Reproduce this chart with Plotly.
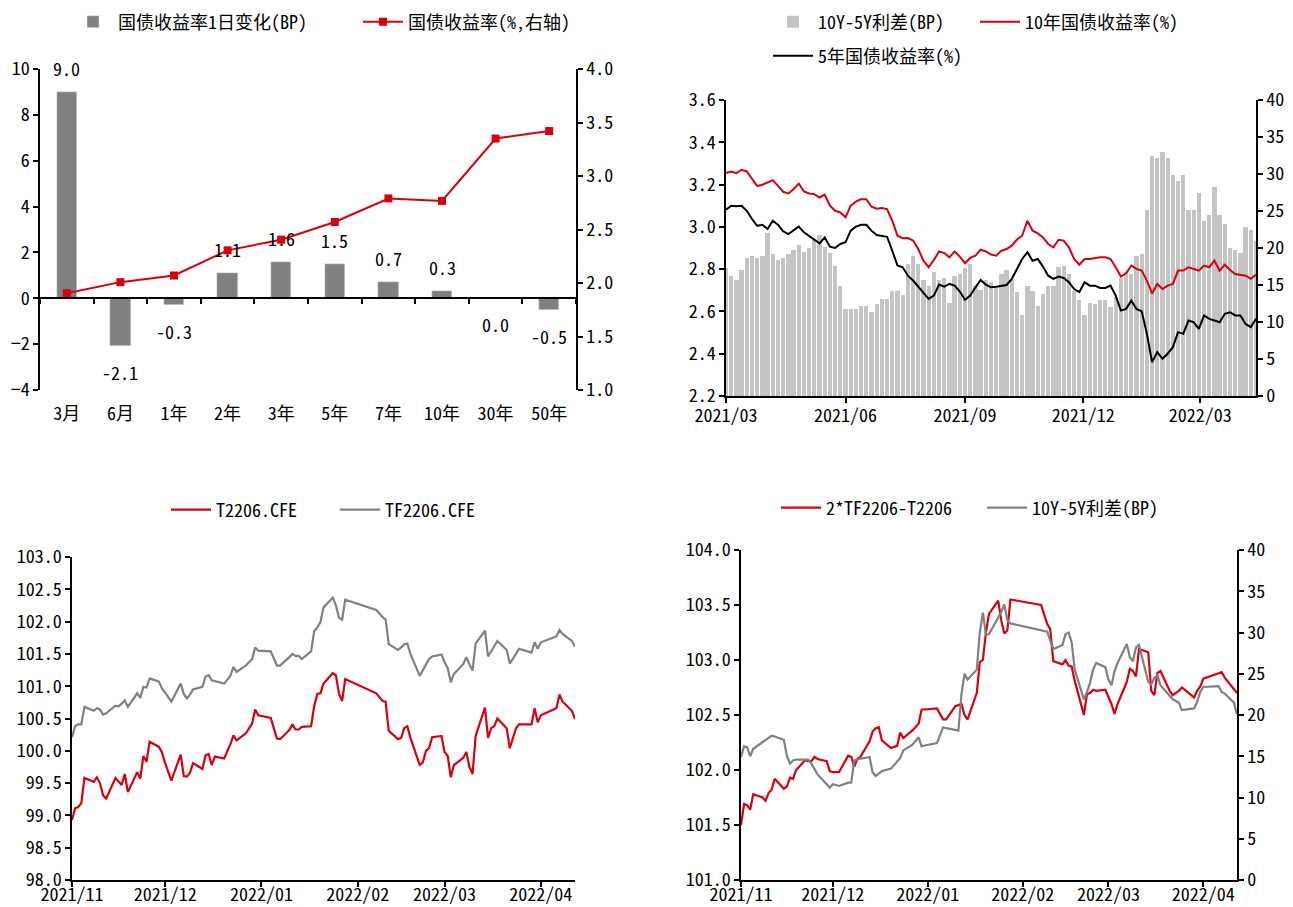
import plotly.graph_objects as go
import pandas as pd

# ---------------- Panel 1: yield curve ----------------
tenors = ["3月", "6月", "1年", "2年", "3年", "5年", "7年", "10年", "30年", "50年"]
chg_bp = [9.0, -2.1, -0.3, 1.1, 1.6, 1.5, 0.7, 0.3, 0.0, -0.5]
yield_pct = [1.905, 2.008, 2.07, 2.305, 2.405, 2.57, 2.79, 2.767, 3.35, 3.42]

# ---------------- Panel 2: 10Y / 5Y yields (sampled every 4 days) ----------------
dates2 = pd.date_range("2021-03-01", "2022-04-13", freq="4D")
spread_bp = [17.3, 16.2, 15.7, 17.0, 18.6, 18.9, 18.7, 18.9, 22.0, 19.2,
             18.4, 18.7, 19.2, 19.7, 20.4, 19.5, 20.0, 21.2, 21.7, 20.1,
             19.3, 17.6, 14.9, 11.8, 11.8, 11.8, 12.1, 12.1, 11.3, 12.4,
             13.1, 13.1, 14.2, 14.2, 13.7, 17.8, 18.9, 17.8, 15.7, 14.9,
             16.8, 15.7, 15.9, 12.6, 16.2, 16.5, 17.3, 17.8, 14.9, 14.3,
             15.7, 15.4, 14.6, 16.5, 17.0, 15.7, 14.0, 11.0, 14.9, 14.2,
             12.1, 13.8, 14.9, 14.9, 17.5, 17.6, 16.5, 14.2, 13.0, 11.0,
             12.6, 12.5, 13.0, 13.0, 12.0, 13.4, 16.0, 16.8, 16.5, 18.9,
             19.2, 25.2, 32.5, 32.2, 33.0, 32.2, 29.9, 29.1, 29.9, 25.2,
             25.2, 27.5, 23.6, 24.4, 28.3, 24.4, 23.3, 20.0, 19.7, 19.3,
             22.8, 22.5, 20.9]
y10 = [3.254, 3.262, 3.254, 3.270, 3.262, 3.226, 3.193, 3.199, 3.210, 3.221,
       3.194, 3.166, 3.158, 3.178, 3.205, 3.167, 3.158, 3.155, 3.139, 3.152,
       3.100, 3.076, 3.068, 3.045, 3.100, 3.119, 3.131, 3.131, 3.095, 3.086,
       3.089, 3.084, 3.029, 2.958, 2.946, 2.947, 2.935, 2.895, 2.840, 2.809,
       2.843, 2.884, 2.876, 2.856, 2.884, 2.859, 2.828, 2.853, 2.864, 2.892,
       2.884, 2.869, 2.864, 2.887, 2.895, 2.911, 2.940, 2.958, 3.029, 2.982,
       2.969, 2.950, 2.919, 2.903, 2.939, 2.935, 2.903, 2.848, 2.821, 2.848,
       2.848, 2.853, 2.856, 2.856, 2.848, 2.809, 2.765, 2.780, 2.817, 2.801,
       2.793, 2.746, 2.685, 2.730, 2.706, 2.722, 2.730, 2.793, 2.793, 2.809,
       2.801, 2.793, 2.817, 2.809, 2.840, 2.793, 2.821, 2.796, 2.777, 2.774,
       2.769, 2.754, 2.774]
y5 = [3.081, 3.100, 3.097, 3.100, 3.076, 3.037, 3.005, 3.010, 2.990, 3.029,
      3.010, 2.979, 2.966, 2.982, 3.001, 2.974, 2.958, 2.942, 2.922, 2.950,
      2.906, 2.900, 2.919, 2.927, 2.982, 3.001, 3.010, 3.010, 2.982, 2.961,
      2.958, 2.953, 2.887, 2.817, 2.809, 2.769, 2.746, 2.717, 2.683, 2.659,
      2.675, 2.727, 2.717, 2.730, 2.722, 2.694, 2.655, 2.675, 2.714, 2.749,
      2.727, 2.714, 2.717, 2.722, 2.725, 2.754, 2.801, 2.848, 2.880, 2.840,
      2.848, 2.812, 2.769, 2.754, 2.765, 2.758, 2.738, 2.706, 2.691, 2.738,
      2.722, 2.722, 2.711, 2.711, 2.722, 2.675, 2.604, 2.612, 2.651, 2.612,
      2.601, 2.494, 2.360, 2.408, 2.376, 2.400, 2.431, 2.502, 2.494, 2.557,
      2.549, 2.518, 2.581, 2.565, 2.557, 2.549, 2.589, 2.596, 2.581, 2.581,
      2.541, 2.526, 2.565]

# ---------------- Panels 3 & 4: futures ----------------
fut_dates = [
    "2021-11-01", "2021-11-02", "2021-11-03", "2021-11-04", "2021-11-05", "2021-11-08", "2021-11-09", "2021-11-10", "2021-11-11", "2021-11-12",
    "2021-11-15", "2021-11-16", "2021-11-17", "2021-11-18", "2021-11-19", "2021-11-22", "2021-11-23", "2021-11-24", "2021-11-25", "2021-11-26",
    "2021-11-29", "2021-11-30", "2021-12-01", "2021-12-03", "2021-12-06", "2021-12-07", "2021-12-08", "2021-12-09", "2021-12-10", "2021-12-13",
    "2021-12-14", "2021-12-15", "2021-12-16", "2021-12-17", "2021-12-20", "2021-12-22", "2021-12-23", "2021-12-24", "2021-12-27", "2021-12-29",
    "2021-12-30", "2021-12-31", "2022-01-04", "2022-01-06", "2022-01-07", "2022-01-10", "2022-01-11", "2022-01-12", "2022-01-13", "2022-01-14",
    "2022-01-17", "2022-01-18", "2022-01-19", "2022-01-20", "2022-01-21", "2022-01-24", "2022-01-25", "2022-01-26", "2022-01-27", "2022-01-28",
    "2022-02-07", "2022-02-09", "2022-02-10", "2022-02-11", "2022-02-14", "2022-02-15", "2022-02-16", "2022-02-17", "2022-02-18", "2022-02-21",
    "2022-02-22", "2022-02-23", "2022-02-24", "2022-02-25", "2022-02-28", "2022-03-01", "2022-03-02", "2022-03-03", "2022-03-04", "2022-03-07",
    "2022-03-08", "2022-03-09", "2022-03-10", "2022-03-11", "2022-03-14", "2022-03-15", "2022-03-16", "2022-03-17", "2022-03-18", "2022-03-21",
    "2022-03-22", "2022-03-24", "2022-03-25", "2022-03-29", "2022-03-30", "2022-03-31", "2022-04-01", "2022-04-06", "2022-04-07", "2022-04-08",
    "2022-04-11", "2022-04-12"]
t2206 = [98.93, 99.11, 99.13, 99.19, 99.58, 99.52, 99.59, 99.50, 99.31, 99.26,
         99.58, 99.53, 99.47, 99.64, 99.36, 99.67, 99.57, 99.92, 99.83, 100.14,
         100.06, 99.97, 99.81, 99.54, 99.94, 99.61, 99.60, 99.66, 99.81, 99.72,
         99.93, 99.95, 99.78, 99.91, 99.88, 100.10, 100.24, 100.16, 100.27, 100.42,
         100.64, 100.55, 100.51, 100.19, 100.18, 100.32, 100.41, 100.33, 100.33, 100.37,
         100.38, 100.69, 100.88, 100.89, 101.04, 101.20, 101.17, 100.88, 100.77, 101.11,
         100.89, 100.77, 100.76, 100.31, 100.18, 100.20, 100.35, 100.38, 100.20, 99.78,
         99.82, 100.00, 100.04, 100.21, 100.23, 99.98, 99.92, 99.59, 99.78, 99.89,
         99.98, 99.75, 99.64, 100.23, 100.67, 100.20, 100.35, 100.38, 100.50, 100.35,
         100.04, 100.35, 100.41, 100.41, 100.66, 100.44, 100.55, 100.66, 100.87, 100.76,
         100.62, 100.49]
tf2206 = [100.21, 100.38, 100.41, 100.41, 100.68, 100.62, 100.66, 100.64, 100.56, 100.58,
          100.70, 100.69, 100.73, 100.78, 100.68, 100.89, 100.82, 100.99, 100.98, 101.12,
          101.07, 100.96, 100.90, 100.76, 101.04, 100.88, 100.81, 100.87, 100.95, 100.99,
          101.15, 101.17, 101.09, 101.08, 101.04, 101.16, 101.30, 101.22, 101.32, 101.42,
          101.60, 101.55, 101.54, 101.32, 101.32, 101.45, 101.50, 101.47, 101.47, 101.42,
          101.54, 101.85, 101.91, 101.99, 102.22, 102.37, 102.25, 102.06, 102.03, 102.34,
          102.18, 102.07, 102.03, 101.65, 101.56, 101.60, 101.65, 101.66, 101.50, 101.16,
          101.25, 101.35, 101.42, 101.46, 101.49, 101.37, 101.28, 101.06, 101.19, 101.34,
          101.45, 101.34, 101.24, 101.66, 101.86, 101.46, 101.54, 101.63, 101.70, 101.56,
          101.35, 101.50, 101.58, 101.52, 101.68, 101.58, 101.68, 101.77, 101.87, 101.81,
          101.70, 101.61]
tf2_t = [101.50, 101.69, 101.68, 101.64, 101.78, 101.75, 101.72, 101.79, 101.82, 101.92,
         101.83, 101.85, 101.93, 101.92, 102.00, 102.09, 102.08, 102.08, 102.12, 102.10,
         102.08, 101.99, 101.98, 101.98, 102.13, 102.12, 102.03, 102.10, 102.12, 102.26,
         102.35, 102.38, 102.39, 102.27, 102.20, 102.22, 102.34, 102.29, 102.36, 102.42,
         102.55, 102.55, 102.56, 102.46, 102.46, 102.58, 102.59, 102.60, 102.50, 102.46,
         102.70, 102.98, 103.00, 103.25, 103.42, 103.54, 103.36, 103.24, 103.27, 103.55,
         103.50, 103.33, 103.28, 102.99, 102.96, 103.00, 102.95, 102.94, 102.81, 102.50,
         102.69, 102.70, 102.73, 102.72, 102.73, 102.66, 102.60, 102.51, 102.60, 102.80,
         102.92, 102.90, 102.85, 103.10, 103.07, 102.72, 102.68, 102.88, 102.90, 102.72,
         102.68, 102.72, 102.75, 102.66, 102.72, 102.76, 102.83, 102.88, 102.89, 102.84,
         102.74, 102.70]
spread_fut = [14.9, 16.2, 16.1, 15.0, 15.9, 16.7, 17.0, 17.2, 17.5, 17.4,
              17.0, 15.0, 14.1, 14.5, 14.6, 14.6, 14.6, 14.1, 13.5, 12.8,
              11.6, 11.2, 11.6, 11.4, 11.8, 11.8, 14.5, 14.6, 14.7, 14.9,
              13.0, 12.6, 12.9, 13.2, 13.5, 14.4, 14.8, 15.7, 16.4, 17.3,
              16.2, 16.3, 16.6, 18.5, 18.4, 18.2, 18.1, 22.5, 25.0, 24.3,
              25.5, 30.0, 32.4, 29.7, 29.8, 31.8, 32.5, 33.4, 31.5, 31.1,
              30.2, 30.1, 29.0, 28.0, 28.5, 29.8, 30.0, 28.8, 25.5, 21.9,
              22.8, 23.9, 25.5, 26.3, 25.8, 24.3, 23.6, 25.3, 26.3, 28.6,
              27.0, 26.5, 28.2, 28.5, 24.0, 23.7, 24.5, 24.8, 23.6, 22.4,
              21.9, 21.5, 20.6, 20.8, 21.6, 22.8, 23.4, 23.5, 22.8, 22.6,
              21.5, 20.1]

# ---------------- styling ----------------
W, H = 1293, 907
FONT = "Noto Sans Mono CJK SC, Liberation Mono, Noto Sans CJK SC, sans-serif"
RED = "#d7000f"
GREY = "#808080"


def fx(p):          # page pixel -> paper fraction
    return p / W


def fy(p):
    return 1 - p / H


# plot-area boxes (page pixels): left, right, top, bottom
P1 = (40, 576, 69, 390)
P2 = (726, 1256, 100, 396)
P3 = (72, 575, 557, 880)
P4 = (741, 1237, 550, 880)


def dom_x(p):
    return [fx(p[0]), fx(p[1])]


def dom_y(p):
    return [fy(p[3]), fy(p[2])]


tickfont = dict(family=FONT, size=18, color="black")
base_ax = dict(showgrid=False, zeroline=False, showline=True, linecolor="black", linewidth=1.5,
               ticks="outside", ticklen=5, tickwidth=1.5, tickcolor="black", tickfont=tickfont,
               automargin=False)

fig = go.Figure()

# Panel 1
fig.add_bar(x=tenors, y=chg_bp, name="国债收益率1日变化(BP)", marker_color=GREY, width=0.38,
            xaxis="x", yaxis="y", legend="legend")
fig.add_scatter(x=tenors, y=yield_pct, name="国债收益率(%,右轴)", mode="lines+markers",
                line=dict(color=RED, width=2), marker=dict(symbol="square", size=8, color=RED),
                xaxis="x", yaxis="y2", legend="legend")

# Panel 2 (bars on the base axis so the lines sit on top)
fig.add_bar(x=dates2, y=spread_bp, name="10Y-5Y利差(BP)", marker_color="#c4c4c4", marker_line_width=0,
            width=3.3 * 86400000, xaxis="x2", yaxis="y3", legend="legend2")
fig.add_scatter(x=dates2, y=y10, name="10年国债收益率(%)", mode="lines", line=dict(color=RED, width=2),
                xaxis="x2", yaxis="y4", legend="legend2")
fig.add_scatter(x=dates2, y=y5, name="5年国债收益率(%)", mode="lines", line=dict(color="black", width=2),
                xaxis="x2", yaxis="y4", legend="legend3")

# Panel 3
fig.add_scatter(x=fut_dates, y=t2206, name="T2206.CFE", mode="lines", line=dict(color=RED, width=2.2),
                xaxis="x3", yaxis="y5", legend="legend4")
fig.add_scatter(x=fut_dates, y=tf2206, name="TF2206.CFE", mode="lines", line=dict(color=GREY, width=2.2),
                xaxis="x3", yaxis="y5", legend="legend4")

# Panel 4
fig.add_scatter(x=fut_dates, y=tf2_t, name="2*TF2206-T2206", mode="lines", line=dict(color=RED, width=2.2),
                xaxis="x4", yaxis="y6", legend="legend5")
fig.add_scatter(x=fut_dates, y=spread_fut, name="10Y-5Y利差(BP)", mode="lines", line=dict(color=GREY, width=2.2),
                xaxis="x4", yaxis="y7", legend="legend5")

# data labels for panel 1 bars
for cat, v in zip(tenors, chg_bp):
    fig.add_annotation(x=cat, y=v, xref="x", yref="y", text=f"{v:.1f}", showarrow=False,
                       yshift=24 if v > 0 else -26, font=dict(family=FONT, size=18, color="black"))

zero_paper = fy(P1[3]) + (0 - (-4)) / 14 * (fy(P1[2]) - fy(P1[3]))

legend_common = dict(orientation="h", xanchor="left", yanchor="middle", bgcolor="rgba(0,0,0,0)",
                     font=dict(family=FONT, size=18, color="black"), itemwidth=40, traceorder="normal")

fig.update_layout(
    width=W, height=H, margin=dict(l=0, r=0, t=0, b=0, pad=0, autoexpand=False),
    paper_bgcolor="white", plot_bgcolor="white",
    font=dict(family=FONT, size=18, color="black"),
    bargap=0,
    # panel 1
    xaxis=dict(base_ax, domain=dom_x(P1), anchor="free", position=zero_paper, type="category",
               categoryorder="array", categoryarray=tenors, range=[-0.5, 9.5], tickson="boundaries",
               ticklabelstandoff=99),
    yaxis=dict(base_ax, domain=dom_y(P1), anchor="x", side="left", range=[-4, 10], dtick=2, tick0=0),
    yaxis2=dict(base_ax, overlaying="y", anchor="x", side="right", range=[1, 4], dtick=0.5, tick0=1,
                tickformat=".1f"),
    # panel 2
    xaxis2=dict(base_ax, domain=dom_x(P2), anchor="y3", type="date", ticklabelstandoff=-2,
                range=["2021-03-01", "2022-04-13"], tick0="2021-03-01", dtick="M3", tickformat="%Y/%m"),
    yaxis3=dict(base_ax, domain=dom_y(P2), anchor="x2", side="right", range=[0, 40], dtick=5, tick0=0),
    yaxis4=dict(base_ax, overlaying="y3", anchor="x2", side="left", range=[2.2, 3.6], dtick=0.2,
                tick0=2.2, tickformat=".1f"),
    # panel 3
    xaxis3=dict(base_ax, domain=dom_x(P3), anchor="y5", type="date", ticklabelstandoff=-7,
                range=["2021-11-01", "2022-04-12"], tick0="2021-11-01", dtick="M1", tickformat="%Y/%m"),
    yaxis5=dict(base_ax, domain=dom_y(P3), anchor="x3", range=[98, 103], dtick=0.5, tick0=98,
                tickformat=".1f"),
    # panel 4
    xaxis4=dict(base_ax, domain=dom_x(P4), anchor="y6", type="date", ticklabelstandoff=-7,
                range=["2021-11-01", "2022-04-12"], tick0="2021-11-01", dtick="M1", tickformat="%Y/%m"),
    yaxis6=dict(base_ax, domain=dom_y(P4), anchor="x4", range=[101, 104], dtick=0.5, tick0=101,
                tickformat=".1f"),
    yaxis7=dict(base_ax, overlaying="y6", anchor="x4", side="right", range=[0, 40], dtick=5, tick0=0),
    legend=dict(legend_common, x=fx(68), y=fy(22), entrywidth=235),
    legend2=dict(legend_common, x=fx(768), y=fy(22), entrywidth=152),
    legend3=dict(legend_common, x=fx(768), y=fy(56)),
    legend4=dict(legend_common, x=fx(166), y=fy(510), entrywidth=114),
    legend5=dict(legend_common, x=fx(776), y=fy(508), entrywidth=151),
    showlegend=True,
)

# remove the browser's default page margin so the 1293x907 figure fills the window exactly
fig.write_html("out.html", config={"displayModeBar": False},
               post_script="document.body.style.margin='0px';document.body.style.overflow='hidden';")
